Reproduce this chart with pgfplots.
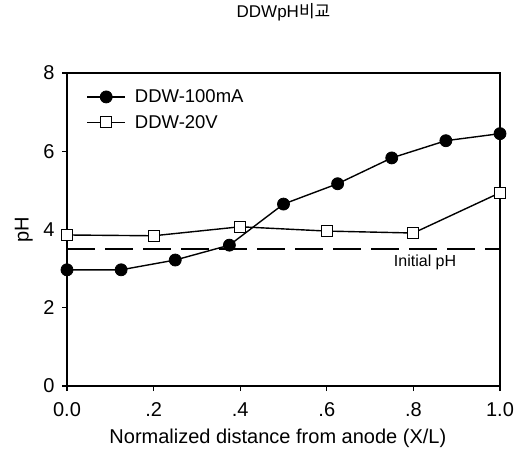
\documentclass[border=0pt]{standalone}
\usepackage{fontspec}
\setmainfont{Liberation Sans}
\newfontfamily\kr{Noto Sans CJK KR}
\usepackage{pgfplots}
\pgfplotsset{compat=1.18}
\begin{document}
\begin{tikzpicture}[x=1pt,y=1pt]
\useasboundingbox (0,0) rectangle (516,461);
\begin{axis}[
  at={(67pt,75pt)}, anchor=south west,
  width=433pt, height=313pt, scale only axis,
  xmin=0, xmax=1, ymin=0, ymax=8,
  xtick={0,0.2,0.4,0.6,0.8,1.0}, xticklabels={0.0,.2,.4,.6,.8,1.0},
  ytick={0,2,4,6,8}, yticklabels={0,2,4,6,8},
  tick pos=left, tick align=outside, major tick length=5pt,
  axis line style={line width=1.6pt},
  every tick/.style={black, line width=1.2pt},
  tick label style={font=\fontsize{20}{22}\selectfont},
  xticklabel style={yshift=-8pt},
  yticklabel style={xshift=-4pt},
  label style={font=\fontsize{20}{22}\selectfont},
  xlabel={Normalized distance from anode (X/L)},
  xlabel style={at={(axis description cs:0.487,-0.185)}, anchor=base},
  ylabel={pH},
  ylabel style={at={(axis description cs:-0.1,0.5)}, anchor=center},
  title={DDWpH{\kr 비교}},
  title style={at={(axis description cs:0.5,1.175)}, anchor=center, font=\fontsize{17}{19}\selectfont},
  legend style={at={(axis description cs:0.04,0.96)}, anchor=north west, draw=none, fill=none,
    font=\fontsize{18.5}{20}\selectfont, row sep=7pt, inner sep=2pt,
    nodes={inner xsep=9pt}},
  legend cell align=left,
  legend image code/.code={\draw[mark repeat=2,mark phase=2] plot coordinates {(0pt,0pt)(19pt,0pt)(38pt,0pt)};},
]
\addplot[black, line width=1.4pt, mark=*, mark size=6pt, mark options={fill=black, line width=0.8pt}]
  coordinates {(0,2.97)(0.125,2.97)(0.25,3.22)(0.375,3.60)(0.5,4.65)(0.625,5.17)(0.75,5.83)(0.875,6.27)(1.0,6.45)};
\addlegendentry{DDW-100mA}
\addplot[black, line width=1.4pt, mark=square*, mark size=5.5pt, mark options={fill=white, line width=0.9pt}]
  coordinates {(0,3.86)(0.2,3.84)(0.4,4.07)(0.6,3.96)(0.8,3.91)(1.0,4.94)};
\addlegendentry{DDW-20V}
\addplot[black, line width=1.8pt, dash pattern=on 28pt off 10pt, forget plot]
  coordinates {(0,3.5)(1,3.5)};
\node[font=\fontsize{16}{18}\selectfont] at (axis cs:0.827,3.17) {Initial pH};
\end{axis}
\end{tikzpicture}
\end{document}
